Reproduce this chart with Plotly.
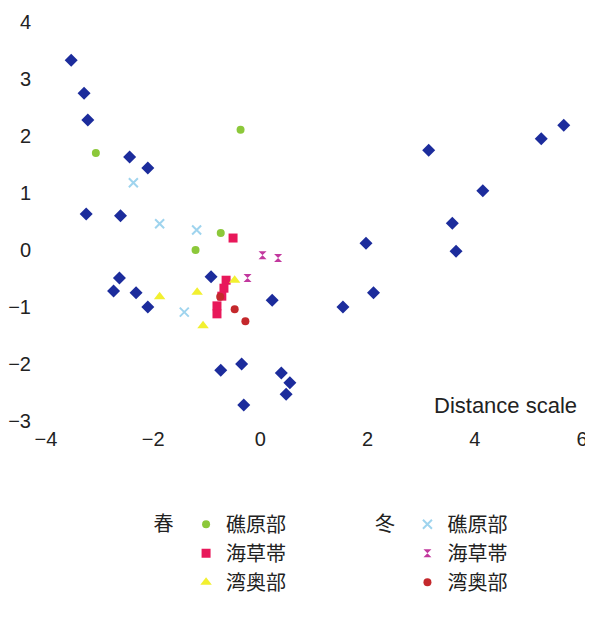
import plotly.graph_objects as go

# Ordination scores
other_x = [-3.53, -3.29, -3.22, -2.44, -2.10, -3.25, -2.61, -2.63, -2.74, -2.32, -2.10,
           -0.92, 0.22, -0.74, -0.35, 0.39, 0.55, 0.48, -0.31,
           3.14, 5.24, 5.66, 4.15, 3.58, 3.65, 1.97, 2.11, 1.54]
other_y = [3.33, 2.75, 2.28, 1.63, 1.44, 0.63, 0.60, -0.49, -0.72, -0.75, -1.00,
           -0.47, -0.88, -2.11, -2.00, -2.16, -2.33, -2.53, -2.72,
           1.75, 1.95, 2.19, 1.04, 0.47, -0.02, 0.12, -0.75, -1.00]

spr_reef_x = [-0.37, -3.07, -0.74, -1.21]
spr_reef_y = [2.11, 1.70, 0.30, 0.00]

spr_grass_x = [-0.51, -0.64, -0.68, -0.72, -0.81, -0.81]
spr_grass_y = [0.21, -0.53, -0.67, -0.81, -0.98, -1.12]

spr_bay_x = [-1.88, -1.18, -1.07, -0.48]
spr_bay_y = [-0.82, -0.74, -1.33, -0.53]

win_reef_x = [-2.37, -1.88, -1.19, -1.42]
win_reef_y = [1.18, 0.46, 0.35, -1.09]

win_grass_x = [0.04, 0.33, -0.24]
win_grass_y = [-0.09, -0.14, -0.49]

win_bay_x = [-0.75, -0.48, -0.28]
win_bay_y = [-0.82, -1.04, -1.25]

x_ticks = [-4, -2, 0, 2, 4, 6]
y_ticks = [-3, -2, -1, 0, 1, 2, 3, 4]

labels = ["礁原部", "海草帯", "湾奥部"]

CJK = "Noto Sans CJK JP"

fig = go.Figure()
fig.add_trace(go.Scatter(x=other_x, y=other_y, mode="markers", showlegend=False,
                         marker=dict(symbol="diamond", size=10, color="#1c2c9c")))

fig.add_trace(go.Scatter(x=spr_reef_x, y=spr_reef_y, mode="markers", name=labels[0],
                         legend="legend",
                         marker=dict(symbol="circle", size=8, color="#8cc83a")))
fig.add_trace(go.Scatter(x=spr_grass_x, y=spr_grass_y, mode="markers", name=labels[1],
                         legend="legend",
                         marker=dict(symbol="square", size=9, color="#e8185a")))
fig.add_trace(go.Scatter(x=spr_bay_x, y=spr_bay_y, mode="markers", name=labels[2],
                         legend="legend",
                         marker=dict(symbol="triangle-up", size=10, color="#f2f030")))

fig.add_trace(go.Scatter(x=win_reef_x, y=win_reef_y, mode="markers", name=labels[0],
                         legend="legend2",
                         marker=dict(symbol="x-thin", size=9, color="#9fd4ee",
                                     line=dict(width=2, color="#9fd4ee"))))
fig.add_trace(go.Scatter(x=win_grass_x, y=win_grass_y, mode="markers", name=labels[1],
                         legend="legend2",
                         marker=dict(symbol="hourglass", size=8, color="#c2389e")))
fig.add_trace(go.Scatter(x=win_bay_x, y=win_bay_y, mode="markers", name=labels[2],
                         legend="legend2",
                         marker=dict(symbol="circle", size=8, color="#c4282c")))

tickfont = dict(family="Liberation Sans", size=20, color="#222222")
legfont = dict(family=CJK, size=20, color="#222222")

fig.update_layout(
    width=585, height=605,
    margin=dict(l=38, r=11, t=14, b=192, autoexpand=False),
    paper_bgcolor="white", plot_bgcolor="white",
    xaxis=dict(range=[-4, 6], tickvals=x_ticks, showgrid=False, zeroline=False,
               showline=False, tickfont=tickfont, ticks="", ticklabelstandoff=4,
               ticklabeloverflow="allow", automargin=False),
    yaxis=dict(range=[-3, 4], tickvals=y_ticks, showgrid=False, zeroline=False,
               showline=False, tickfont=tickfont, ticks="", ticklabelstandoff=14,
               ticklabeloverflow="allow", automargin=False),
    legend=dict(x=0.197, y=-0.21, xanchor="left", yanchor="top",
                orientation="v", font=legfont, bgcolor="rgba(0,0,0,0)",
                title=dict(text="春 ", side="left", font=legfont),
                itemsizing="trace", tracegroupgap=0),
    legend2=dict(x=0.61, y=-0.21, xanchor="left", yanchor="top",
                 orientation="v", font=legfont, bgcolor="rgba(0,0,0,0)",
                 title=dict(text="冬 ", side="left", font=legfont),
                 itemsizing="trace", tracegroupgap=0),
    showlegend=True,
)

fig.add_shape(type="line", xref="paper", yref="paper", x0=1.008, x1=1.008, y0=0, y1=1,
              line=dict(color="#cccccc", width=1))

fig.add_annotation(text="Distance scale", xref="paper", yref="paper",
                   x=0.995, y=0.04, xanchor="right", yanchor="middle",
                   showarrow=False, font=dict(family="Liberation Sans", size=22, color="#222222"))

fig.write_html("out.html")
